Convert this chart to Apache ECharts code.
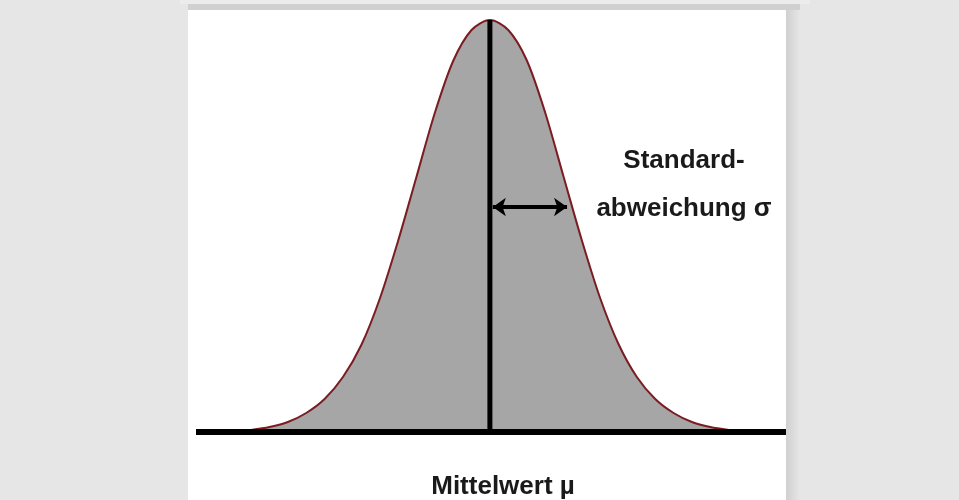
<!DOCTYPE html>
<html>
<head>
<meta charset="utf-8">
<script src="https://cdn.jsdelivr.net/npm/echarts@6/dist/echarts.min.js"></script>
<style>
  html, body { margin: 0; padding: 0; background: #e6e6e6; }
  #bell { width: 959px; height: 500px; }
</style>
</head>
<body>
<div id="bell"></div>
<script>
// x positions in units of sigma
var sigmaPos = [-3.25, -3, -2.75, -2.5, -2.25, -2, -1.75, -1.5, -1.25, -1, -0.75, -0.5, -0.25,
  0, 0.25, 0.5, 0.75, 1, 1.25, 1.5, 1.75, 2, 2.25, 2.5, 2.75, 3, 3.25]
// curve height above the baseline (same scale as the y axis)
var density = [2, 5, 10, 19, 33, 55, 87, 133, 191, 255, 319, 371, 402,
  412, 402, 372, 320, 256, 192, 134, 88, 55, 33, 19, 10, 5, 2]
// mean line (x, height) and the sigma arrow (from, to, height)
var meanLine = [[0, 0], [0, 412]]
var sigmaArrow = [0.04, 1.05, 225]
// texts
var sigmaText = ['Standard-', 'abweichung σ']
var meanText = 'Mittelwert µ'

var curveData = sigmaPos.map(function (x, i) { return [x, density[i]] })

var chart = echarts.init(document.getElementById('bell'))
var textFont = 'bold 26px "Liberation Sans", Arial, sans-serif'

var option = {
  backgroundColor: '#e6e6e6',
  animation: false,
  grid: { left: 196, right: 173, top: 12, bottom: 68 },
  xAxis: {
    type: 'value',
    min: -4,
    max: 4.03,
    z: 10,
    axisLine: { show: true, onZero: false, lineStyle: { color: '#000', width: 6, cap: 'butt' } },
    axisTick: { show: false },
    axisLabel: { show: false },
    splitLine: { show: false }
  },
  yAxis: {
    type: 'value',
    min: 0,
    max: 420,
    axisLine: { show: false },
    axisTick: { show: false },
    axisLabel: { show: false },
    splitLine: { show: false }
  },
  graphic: [
    // page strips / white panel
    { type: 'rect', z: -10, shape: { x: 180, y: 0, width: 630, height: 4 }, style: { fill: '#ececec' } },
    { type: 'rect', z: -10, shape: { x: 188, y: 4, width: 612, height: 6 }, style: { fill: '#d0d0d0' } },
    {
      type: 'rect', z: -10, shape: { x: 786, y: 10, width: 14, height: 490 },
      style: { fill: new echarts.graphic.LinearGradient(0, 0, 1, 0, [{ offset: 0, color: '#d0d0d0' }, { offset: 1, color: '#e6e6e6' }]) }
    },
    { type: 'rect', z: -10, shape: { x: 188, y: 10, width: 598, height: 490 }, style: { fill: '#ffffff' } },
    // labels
    { type: 'text', z: 100, x: 684, y: 161, style: { text: sigmaText[0], font: textFont, fill: '#1a1a1a', align: 'center', verticalAlign: 'middle' } },
    { type: 'text', z: 100, x: 684, y: 209, style: { text: sigmaText[1], font: textFont, fill: '#1a1a1a', align: 'center', verticalAlign: 'middle' } },
    { type: 'text', z: 100, x: 503, y: 487, style: { text: meanText, font: textFont, fill: '#1a1a1a', align: 'center', verticalAlign: 'middle' } }
  ],
  series: [
    {
      name: 'curve',
      type: 'line',
      data: curveData,
      smooth: 0.3,
      showSymbol: false,
      clip: false,
      lineStyle: { color: '#7a1c22', width: 2 },
      areaStyle: { color: '#a6a6a6', opacity: 1 },
      z: 2
    },
    {
      name: 'mean',
      type: 'line',
      data: meanLine,
      showSymbol: false,
      clip: false,
      lineStyle: { color: '#000', width: 5 },
      z: 3,
      markLine: {
        silent: true,
        symbol: ['arrow', 'arrow'],
        symbolSize: [14, 13],
        label: { show: false },
        lineStyle: { color: '#000', width: 4, type: 'solid' },
        data: [[{ coord: [sigmaArrow[0], sigmaArrow[2]] }, { coord: [sigmaArrow[1], sigmaArrow[2]] }]]
      }
    }
  ]
}

chart.setOption(option, true)
</script>
</body>
</html>
